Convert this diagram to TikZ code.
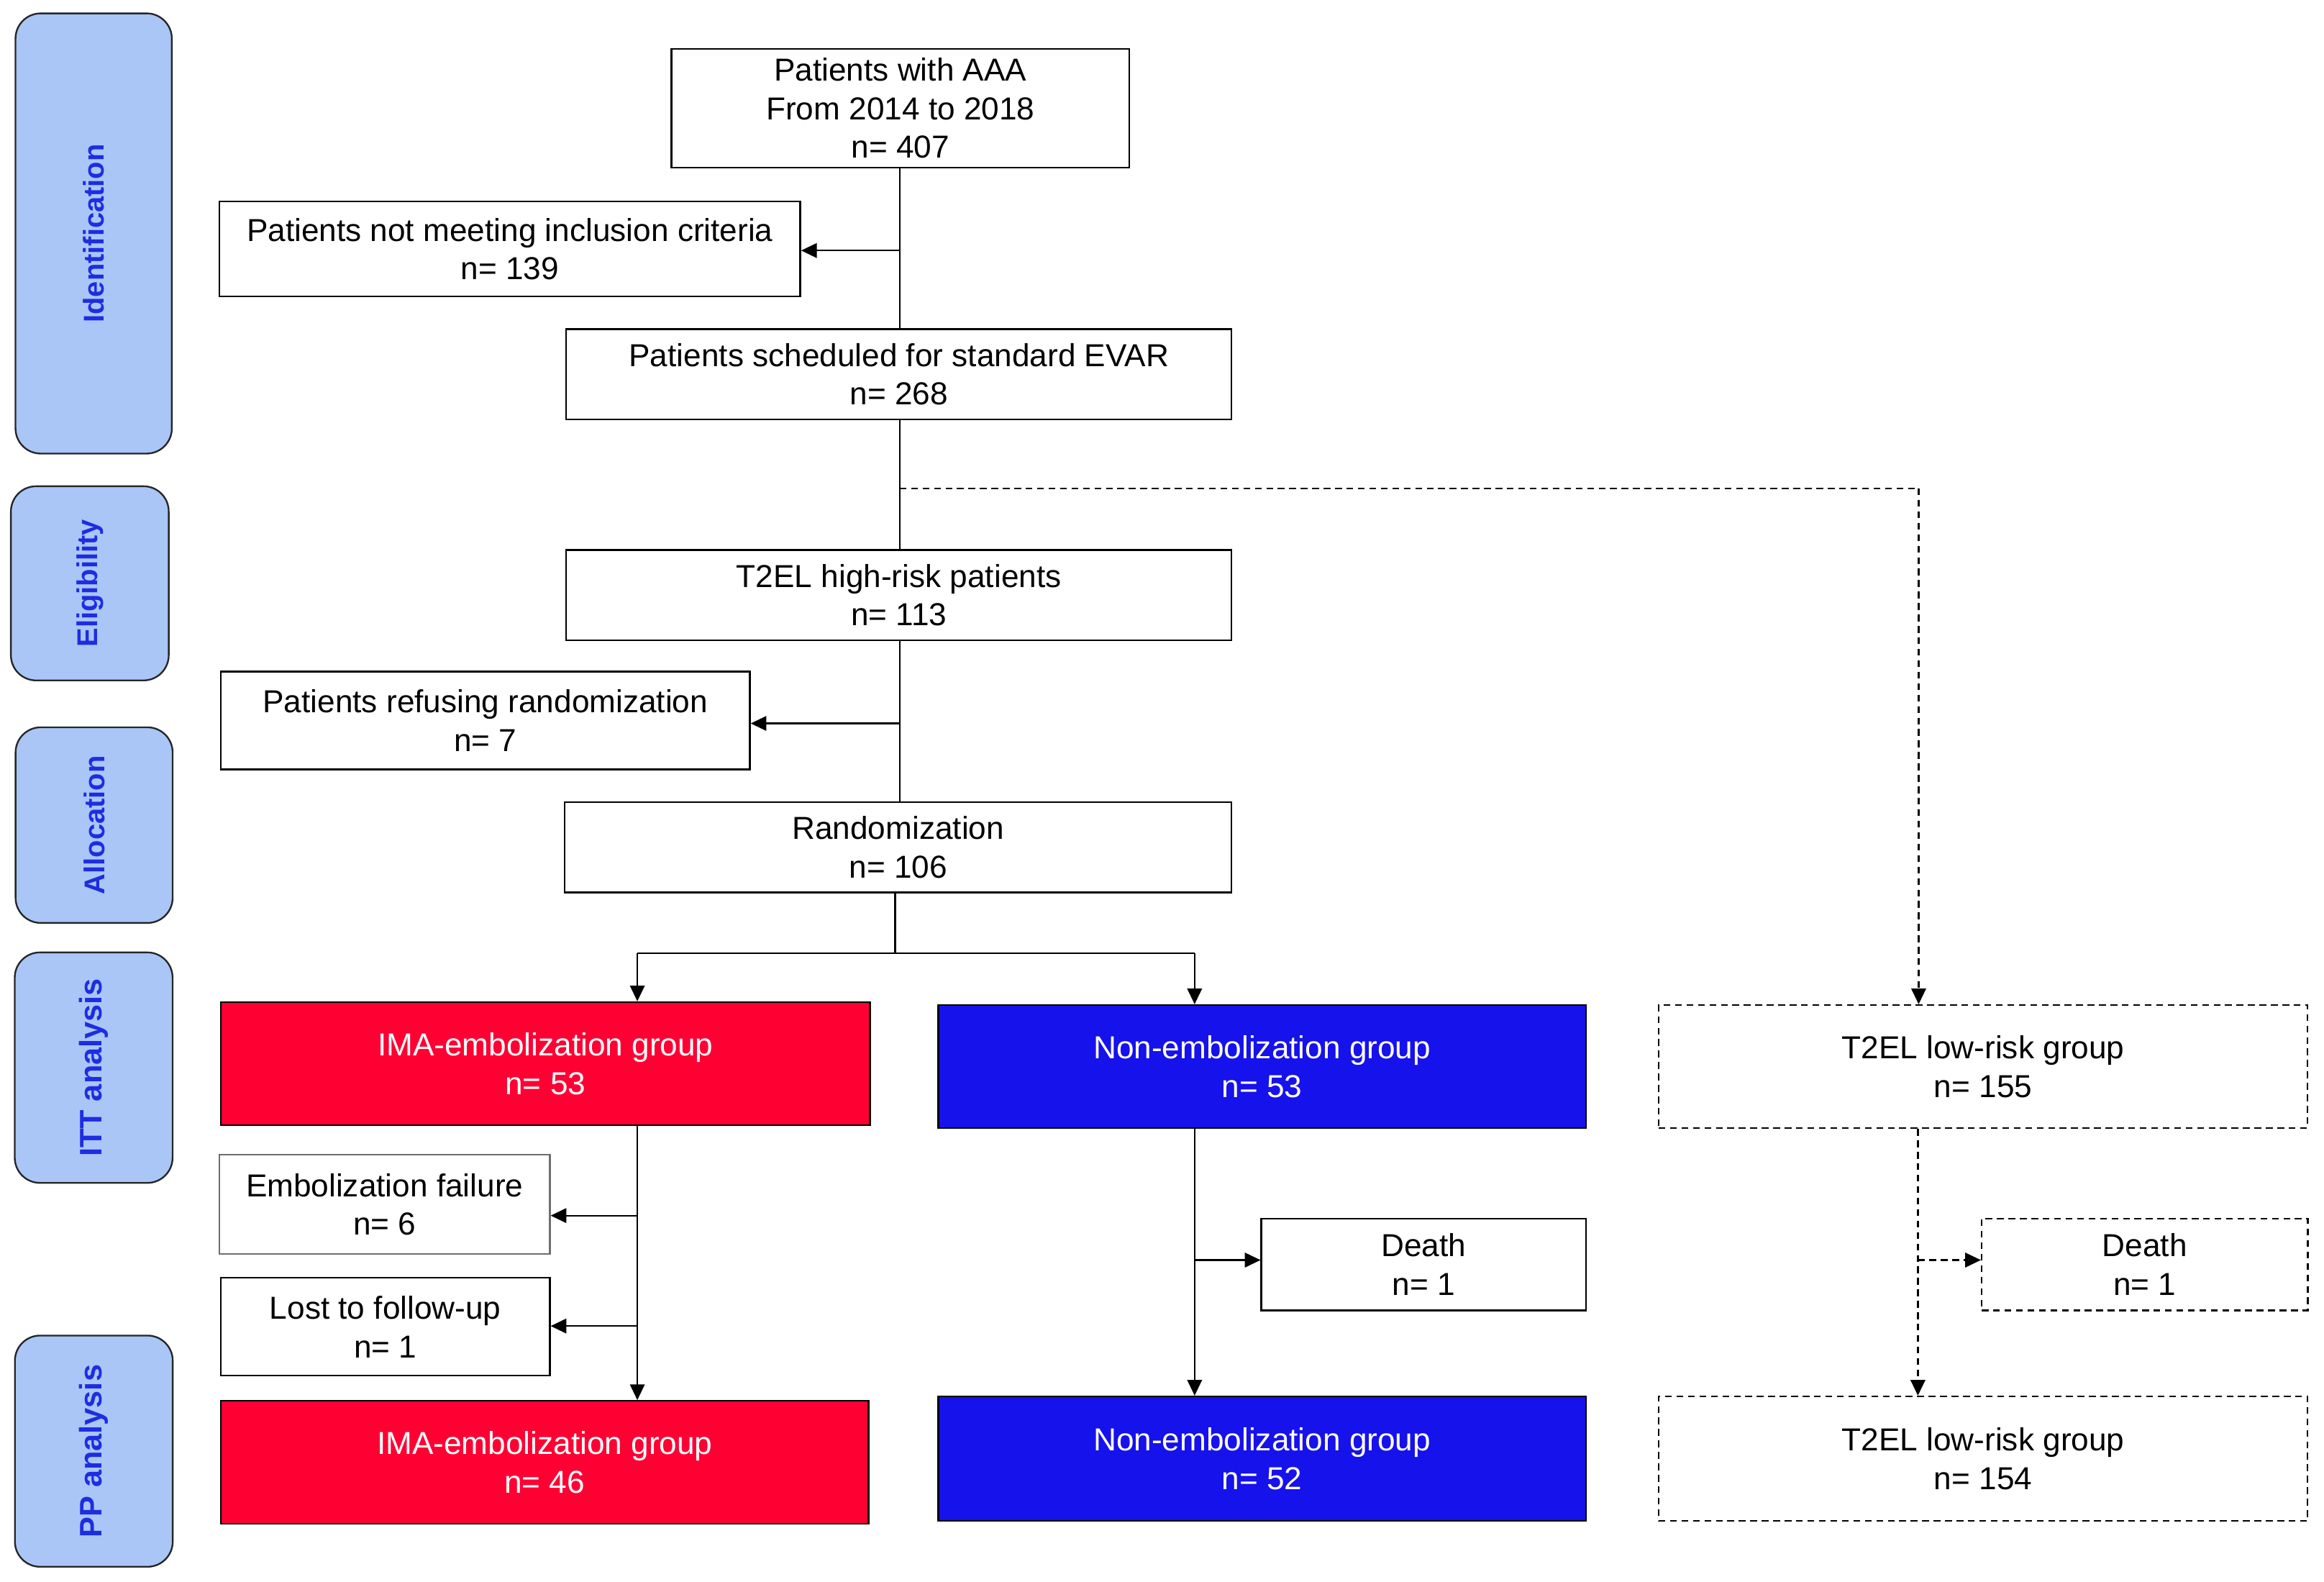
\documentclass[tikz,border=0pt]{standalone}
\usepackage{fontspec}
\setmainfont{Liberation Sans}
\usetikzlibrary{arrows.meta}
\definecolor{sidefill}{RGB}{169,198,247}
\definecolor{sidetext}{RGB}{30,45,225}
\definecolor{redbox}{RGB}{255,0,51}
\definecolor{bluebox}{RGB}{22,18,235}
\definecolor{grayline}{RGB}{110,110,110}
\tikzset{
  box/.style={draw=black, line width=0.65pt, align=center, inner sep=0pt,
    font=\fontsize{12.2}{14.8}\selectfont},
  redb/.style={box, fill=redbox, text=white},
  blueb/.style={box, fill=bluebox, text=white},
  dbox/.style={box, dash pattern=on 2.6pt off 1.8pt},
  side/.style={draw=black!85, line width=0.65pt, fill=sidefill, rounded corners=0.34cm,
    text=sidetext, font=\fontsize{11}{13}\selectfont\bfseries, inner sep=0pt, rotate=90},
  sidebig/.style={side, font=\fontsize{11.95}{14}\selectfont\bfseries},
  conn/.style={line width=0.65pt},
  arr/.style={conn, -{Triangle[length=6pt,width=5.6pt]}},
  dconn/.style={conn, dash pattern=on 2.6pt off 1.8pt},
  darr/.style={dconn, -{Triangle[length=6pt,width=5.6pt]}},
}
\begin{document}
\begin{tikzpicture}[x=0.02cm,y=-0.02cm]
\useasboundingbox (0,0) rectangle (1568,1067);
% side labels
\node[side, minimum width=5.94cm, minimum height=2.11cm] (sid) at (63.2,157.5) {Identification};
\node[side, minimum width=2.62cm, minimum height=2.13cm] (sel) at (60.6,393.5) {Eligibility};
\node[side, minimum width=2.64cm, minimum height=2.12cm] (sal) at (63.5,556.6) {Allocation};
\node[sidebig, minimum width=3.11cm, minimum height=2.13cm] (sitt) at (63.2,720.2) {ITT analysis};
\node[sidebig, minimum width=3.12cm, minimum height=2.13cm] (spp) at (63.3,978.9) {PP analysis};
% main boxes
\node[box, minimum width=6.18cm, minimum height=1.60cm] (top) at (607.5,73) {Patients with AAA\\From 2014 to 2018\\n= 407};
\node[box, minimum width=7.84cm, minimum height=1.28cm] (excl) at (344,168) {Patients not meeting inclusion criteria\\n= 139};
\node[box, minimum width=8.98cm, minimum height=1.22cm] (sched) at (606.5,252.5) {Patients scheduled for standard EVAR\\n= 268};
\node[box, minimum width=8.98cm, minimum height=1.22cm] (high) at (606.5,401.5) {T2EL high-risk patients\\n= 113};
\node[box, minimum width=7.14cm, minimum height=1.32cm] (refuse) at (327.5,486) {Patients refusing randomization\\n= 7};
\node[box, minimum width=9.00cm, minimum height=1.22cm] (rand) at (606,571.5) {Randomization\\n= 106};
\node[redb, minimum width=8.76cm, minimum height=1.66cm] (ima1) at (368,717.5) {IMA-embolization group\\n= 53};
\node[blueb, minimum width=8.74cm, minimum height=1.66cm] (non1) at (851.5,719.5) {Non-embolization group\\n= 53};
\node[dbox, minimum width=8.76cm, minimum height=1.66cm] (low1) at (1338,719.5) {T2EL low-risk group\\n= 155};
\node[box, draw=grayline, minimum width=4.46cm, minimum height=1.34cm] (embf) at (259.5,812.5) {Embolization failure\\n= 6};
\node[box, minimum width=4.44cm, minimum height=1.32cm] (lost) at (260,895) {Lost to follow-up\\n= 1};
\node[redb, minimum width=8.74cm, minimum height=1.66cm] (ima2) at (367.5,986.5) {IMA-embolization group\\n= 46};
\node[box, minimum width=4.38cm, minimum height=1.24cm] (death1) at (960.5,853) {Death\\n= 1};
\node[dbox, minimum width=4.40cm, minimum height=1.24cm] (death2) at (1447,853) {Death\\n= 1};
\node[blueb, minimum width=8.74cm, minimum height=1.68cm] (non2) at (851.5,984) {Non-embolization group\\n= 52};
\node[dbox, minimum width=8.76cm, minimum height=1.68cm] (low2) at (1338,984) {T2EL low-risk group\\n= 154};
% junction coordinates
\coordinate (c1) at (607,169);
\coordinate (c2) at (607,329.5);
\coordinate (c3) at (1294.5,329.5);
\coordinate (c4) at (607,488);
\coordinate (c5) at (604,643);
\coordinate (colI) at (430,643);
\coordinate (colN) at (806,643);
\coordinate (colL) at (1294,850);
\coordinate (b1) at (430,820);
\coordinate (b2) at (430,894.5);
\coordinate (b3) at (806,850);
% connectors
\draw[conn] (top.south -| c1) -- (sched.north -| c1);
\draw[arr] (c1) -- (c1 -| excl.east);
\draw[conn] (sched.south -| c2) -- (high.north -| c2);
\draw[dconn] (c2) -- (c3);
\draw[darr] (c3) -- (c3 |- low1.north);
\draw[conn] (high.south -| c4) -- (rand.north -| c4);
\draw[arr] (c4) -- (c4 -| refuse.east);
\draw[conn] (rand.south -| c5) -- (c5);
\draw[conn] (colI) -- (colN);
\draw[arr] (colI) -- (colI |- ima1.north);
\draw[arr] (colN) -- (colN |- non1.north);
\draw[arr] (colI |- ima1.south) -- (colI |- ima2.north);
\draw[arr] (b1) -- (b1 -| embf.east);
\draw[arr] (b2) -- (b2 -| lost.east);
\draw[arr] (colN |- non1.south) -- (colN |- non2.north);
\draw[arr] (b3) -- (b3 -| death1.west);
\draw[darr] (colL |- low1.south) -- (colL |- low2.north);
\draw[darr] (colL) -- (colL -| death2.west);
\end{tikzpicture}
\end{document}
